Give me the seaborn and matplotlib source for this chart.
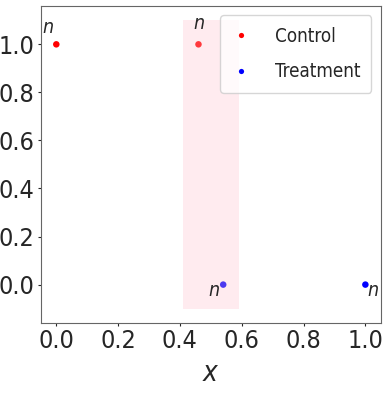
import matplotlib
matplotlib.use("Agg")
import matplotlib.pyplot as plt
import seaborn as sns
import pandas as pd
from matplotlib.patches import Rectangle

groups = ["Control", "Control", "Treatment", "Treatment"]
x_vals = [0.0, 0.46, 0.54, 1.0]
y_vals = [1.0, 1.0, 0.0, 0.0]
labels = ["n", "n", "n", "n"]
span_x = [0.41, 0.59]
span_y = [-0.1, 1.1]

sns.set_style("white")
plt.rcParams['font.family'] = ['DejaVu Sans']
plt.rcParams['font.stretch'] = 'condensed'

df = pd.DataFrame({"x": x_vals, "y": y_vals, "group": groups})

fig, ax = plt.subplots(figsize=(3.89, 3.93), dpi=100)
sns.scatterplot(data=df, x="x", y="y", hue="group", palette={"Control": "red", "Treatment": "blue"},
                s=22, edgecolor=None, linewidth=0, ax=ax, zorder=2)
ax.add_patch(Rectangle((span_x[0], span_y[0]), span_x[1] - span_x[0], span_y[1] - span_y[0],
                       facecolor="pink", alpha=0.3, lw=0, zorder=3))
ax.update_datalim([(span_x[0], span_y[0]), (span_x[1], span_y[1])])
ax.autoscale_view()

offsets = [(-2, 5, "right", "bottom"), (0, 8, "center", "bottom"), (-2, -4, "right", "center"), (1, -4, "left", "center")]
for (xv, yv, lab, (dx, dy, ha, va)) in zip(x_vals, y_vals, labels, offsets):
    ax.annotate(f"${lab}$", (xv, yv), xytext=(dx, dy), textcoords="offset points",
                ha=ha, va=va, fontsize=14, zorder=4)

ax.set_xlabel("$x$", fontsize=20, labelpad=4)
ax.set_ylabel("")
ax.tick_params(axis="both", labelsize=18, length=2.5, pad=2, left=True, bottom=True)
ax.set_xticks([0.0, 0.2, 0.4, 0.6, 0.8, 1.0])
ax.set_yticks([0.0, 0.2, 0.4, 0.6, 0.8, 1.0])
for s in ax.spines.values():
    s.set_color("#666666")
ax.legend(title=None, loc="upper right", fontsize=13.5, markerscale=0.8, handletextpad=1.3,
          handlelength=1.0, borderpad=0.6, labelspacing=0.9)
plt.subplots_adjust(left=0.105, right=0.979, top=0.985, bottom=0.178)
fig.savefig("out.png", dpi=100)
